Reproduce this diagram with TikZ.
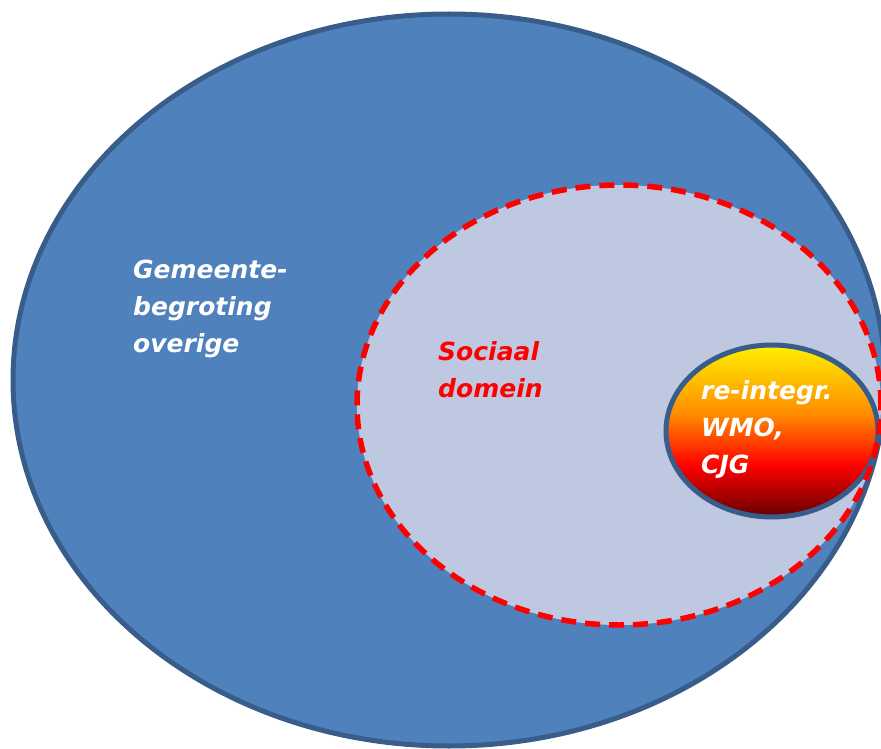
\documentclass[tikz,border=0pt]{standalone}
\usepackage{fontspec}
\setmainfont{DejaVu Sans}
\definecolor{bigfill}{RGB}{79,129,189}
\definecolor{bigline}{RGB}{56,93,138}
\definecolor{socfill}{RGB}{190,200,224}
\definecolor{gy}{RGB}{255,240,0}
\definecolor{go}{RGB}{255,140,0}
\definecolor{gr}{RGB}{255,0,0}
\definecolor{gd}{RGB}{100,0,0}
\pgfdeclareverticalshading{hotball}{100bp}{color(0bp)=(gd); color(25bp)=(gd); color(40bp)=(gr); color(55bp)=(go); color(75bp)=(gy); color(100bp)=(gy)}
\tikzset{
  lbl/.style={anchor=base west, align=left, inner sep=0pt,
    font=\fontsize{25}{37}\selectfont\bfseries\itshape},
}
\begin{document}
\begin{tikzpicture}[x=1pt,y=-1pt]
\useasboundingbox (0,0) rectangle (881,749);
\draw[line width=5pt, draw=bigline, fill=bigfill] (449,380) ellipse [x radius=436pt, y radius=366pt];
\fill[socfill] (619,405) ellipse [x radius=262pt, y radius=220pt];
\draw[line width=5pt, draw=bigline, shading=hotball] (772,431) ellipse [x radius=106pt, y radius=86pt];
\draw[line width=5.5pt, draw=red, dash pattern=on 15pt off 9pt] (619,405) ellipse [x radius=262pt, y radius=220pt];
\node[lbl, text=white] (gem) at (133,352) {Gemeente-\\begroting\\overige};
\node[lbl, text=red] (soc) at (438,397) {Sociaal\\domein};
\node[lbl, text=white] (rei) at (701,473) {re-integr.\\WMO,\\CJG};
\end{tikzpicture}
\end{document}
